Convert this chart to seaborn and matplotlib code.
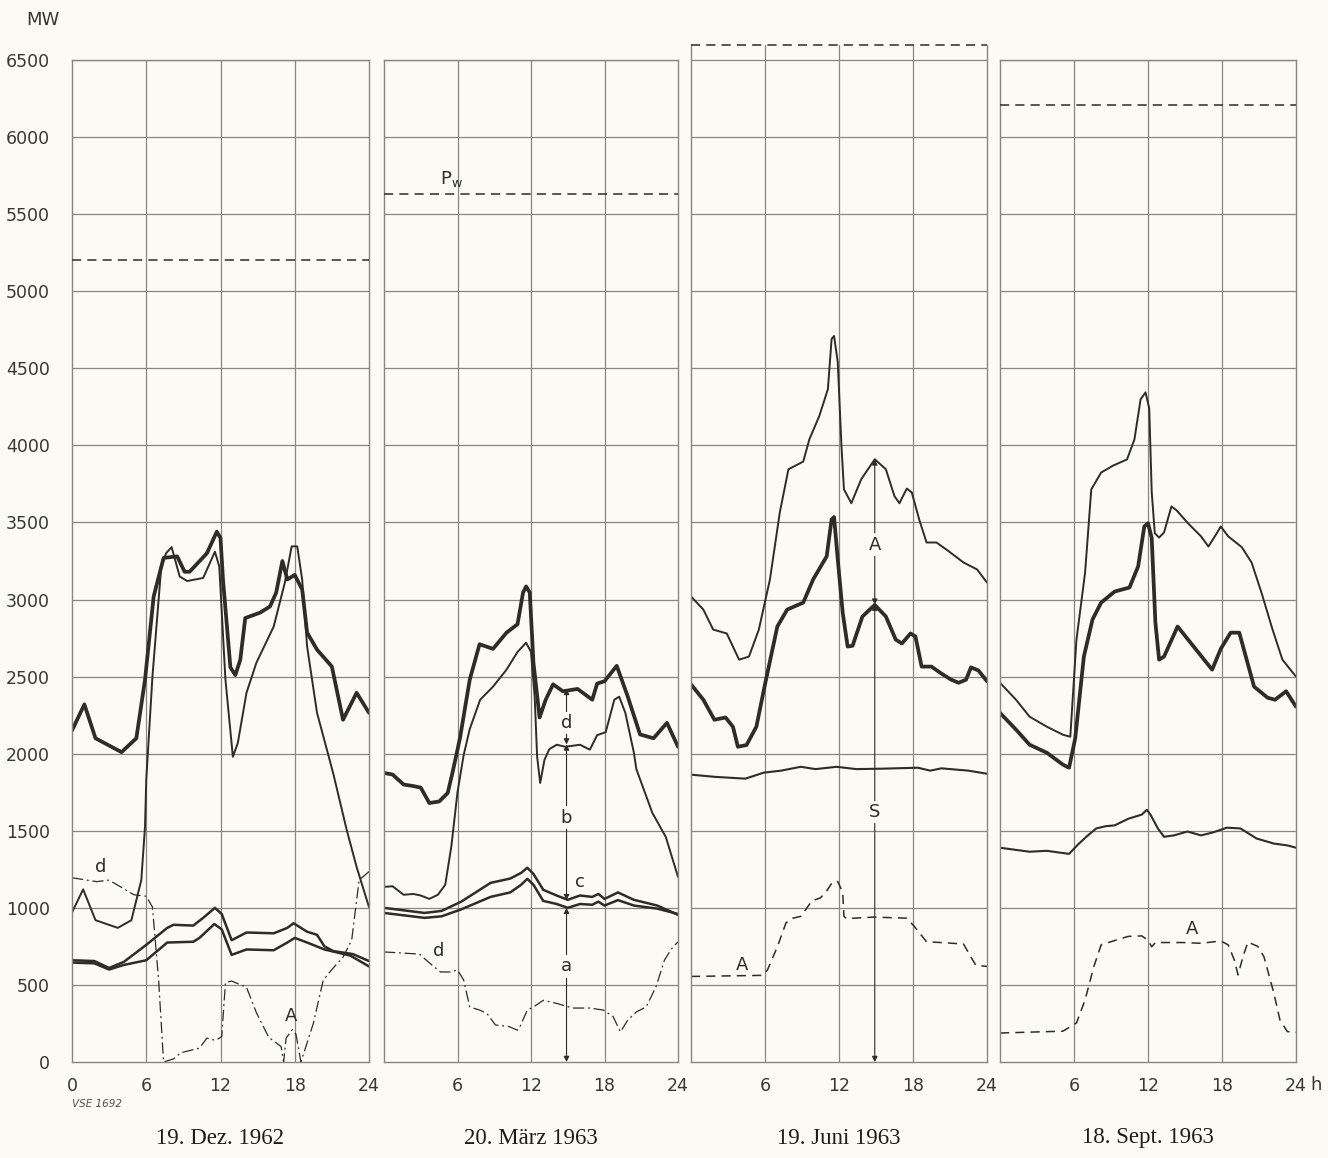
import numpy as np
import matplotlib
matplotlib.use("Agg")
import matplotlib.pyplot as plt
import seaborn as sns

# ---- data (MW over the day) ----
dez_total_h = [0, 1.0, 1.9, 4.0, 5.2, 5.9, 6.6, 7.4, 8.5, 9.1, 9.5, 10.9, 11.7, 12.0, 12.2, 12.8, 13.2,
               13.6, 14.0, 15.2, 16.0, 16.5, 17.0, 17.4, 18.0, 18.6, 19.0, 19.8, 21.0, 21.9, 23.0, 24.0]
dez_total = [2150, 2320, 2100, 2010, 2100, 2480, 3020, 3270, 3280, 3180, 3180, 3300, 3440, 3400, 3130, 2560, 2510,
             2610, 2880, 2915, 2955, 3045, 3250, 3130, 3160, 3065, 2785, 2675, 2565, 2220, 2395, 2265]
dez_thin_h = [0, 0.9, 1.9, 3.7, 4.8, 5.6, 5.9, 6.0, 6.5, 7.2, 7.6, 8.05, 8.7, 9.3, 10.6, 11.55, 11.9, 12.4, 13.0,
              13.4, 14.1, 14.9, 16.3, 17.2, 17.75, 18.2, 18.6, 19.0, 19.8, 21.1, 22.2, 23.0, 24.0]
dez_thin = [970, 1120, 920, 870, 920, 1180, 1526, 1830, 2500, 3200, 3300, 3340, 3150, 3120, 3140, 3310, 3215, 2480, 1980,
            2070, 2395, 2590, 2825, 3110, 3345, 3345, 3130, 2695, 2265, 1875, 1505, 1265, 1005]
dez_upper_h = [0, 1.8, 3.0, 4.2, 6.0, 7.7, 8.2, 9.8, 10.6, 11.55, 12.1, 12.9, 14.1, 16.3, 17.4, 17.9, 19.0, 19.8,
               20.4, 21.1, 22.7, 24.0]
dez_upper = [660, 655, 610, 650, 760, 870, 890, 885, 935, 1000, 960, 790, 840, 835, 870, 900, 845, 825,
             750, 720, 700, 655]
dez_lower_h = [0, 1.8, 3.0, 4.2, 6.0, 7.7, 9.8, 10.3, 11.5, 12.1, 12.9, 14.1, 16.3, 17.4, 18.0, 19.0, 20.4, 22.5, 24.0]
dez_lower = [645, 640, 600, 630, 660, 775, 780, 805, 895, 860, 695, 730, 725, 775, 805, 775, 730, 690, 620]
dez_d_h = [0, 2.0, 3.0, 5.0, 6.0, 6.5, 7.0, 7.4, 8.2, 8.8, 10.3, 10.9, 11.6, 12.1, 12.4, 12.9, 14.1, 14.9, 15.9,
           16.9, 17.1, 17.3, 17.8, 18.1, 18.5, 19.5, 20.3, 21.0, 21.9, 22.6, 23.2, 24.0]
dez_d = [1195, 1170, 1180, 1085, 1075, 1005, 530, 0, 20, 60, 90, 155, 140, 165, 515, 525, 485, 320, 160,
         100, 0, 155, 210, 180, 0, 250, 530, 600, 680, 790, 1180, 1235]

mar_total_h = [0, 0.7, 1.6, 2.4, 3.0, 3.7, 4.5, 5.2, 5.6, 6.2, 7.0, 7.8, 8.9, 10.0, 10.9, 11.35, 11.6, 11.9, 12.2,
               12.7, 13.2, 13.8, 14.6, 15.8, 17.0, 17.4, 18.0, 19.0, 19.9, 20.9, 22.0, 23.1, 24.0]
mar_total = [1875, 1865, 1800, 1790, 1780, 1680, 1690, 1745, 1880, 2100, 2480, 2710, 2680, 2785, 2840, 3045, 3085, 3045,
             2590, 2235, 2350, 2450, 2405, 2420, 2350, 2455, 2470, 2570, 2370, 2125, 2100, 2200, 2045]
mar_thin_h = [0, 0.7, 1.6, 2.4, 3.0, 3.7, 4.4, 5.0, 5.5, 6.0, 6.5, 7.0, 7.85, 8.9, 10.0, 10.9, 11.6, 12.0, 12.3,
              12.5, 12.75, 13.1, 13.5, 14.1, 14.8, 16.0, 16.8, 17.4, 18.1, 18.8, 19.2, 19.7, 20.4, 20.6, 21.9, 23.0, 24.0]
mar_thin = [1136, 1140, 1085, 1090, 1080, 1058, 1085, 1150, 1400, 1750, 1990, 2160, 2350, 2435, 2545, 2660, 2720, 2660,
            2370, 1980, 1810, 1960, 2030, 2058, 2045, 2058, 2026, 2120, 2140, 2350, 2370, 2265, 2006, 1900, 1617, 1461, 1201]
mar_pair_h = [0, 3.3, 4.7, 6.3, 8.7, 10.3, 11.2, 11.7, 12.2, 13.0, 14.1, 15.0, 16.0, 17.0, 17.5, 18.0, 19.1, 20.4,
              22.3, 24.0]
mar_upper = [1000, 967, 980, 1040, 1162, 1190, 1227, 1260, 1220, 1117, 1080, 1052, 1080, 1071, 1090, 1058, 1100, 1052,
             1015, 955]
mar_lower = [967, 935, 945, 990, 1071, 1100, 1150, 1188, 1150, 1045, 1025, 1000, 1025, 1020, 1040, 1015, 1050, 1015,
             995, 960]
mar_d_h = [0, 2.9, 3.6, 4.6, 5.4, 6.0, 6.5, 7.0, 7.8, 8.4, 9.1, 10.2, 10.9, 11.1, 11.7, 12.2, 13.0, 14.1, 15.4,
           16.8, 17.9, 18.7, 19.3, 19.9, 20.6, 21.4, 22.2, 22.9, 23.5, 24.0]
mar_d = [714, 700, 650, 584, 584, 597, 532, 357, 337, 315, 240, 230, 206, 230, 337, 357, 400, 380, 350,
         350, 337, 295, 195, 272, 325, 357, 487, 662, 737, 780]

jun_thin_h = [0, 1.0, 1.8, 2.9, 3.4, 3.9, 4.7, 5.5, 6.4, 7.2, 7.9, 9.1, 9.6, 10.4, 11.1, 11.4, 11.6, 11.9, 12.2,
              12.4, 13.0, 13.8, 14.9, 15.8, 16.5, 16.9, 17.5, 17.9, 18.5, 19.1, 19.9, 20.7, 22.1, 23.2, 24.0]
jun_thin = [3020, 2935, 2805, 2780, 2695, 2610, 2630, 2805, 3130, 3565, 3845, 3895, 4040, 4190, 4365, 4690, 4710, 4540,
            3995, 3715, 3625, 3780, 3910, 3845, 3670, 3625, 3720, 3695, 3520, 3370, 3370, 3325, 3240, 3195, 3110]
jun_total_h = [0, 1.0, 1.9, 2.8, 3.4, 3.8, 4.5, 5.3, 6.0, 7.0, 7.8, 9.1, 9.9, 11.0, 11.4, 11.6, 11.9, 12.3, 12.7,
               13.1, 13.9, 14.9, 15.8, 16.6, 17.1, 17.8, 18.2, 18.7, 19.5, 20.3, 21.1, 21.7, 22.3, 22.7, 23.3, 24.0]
jun_total = [2450, 2350, 2220, 2235, 2175, 2045, 2056, 2175, 2450, 2825, 2935, 2980, 3130, 3280, 3520, 3535, 3260, 2915,
             2695, 2700, 2890, 2965, 2890, 2740, 2715, 2780, 2760, 2565, 2565, 2520, 2480, 2460, 2480, 2560, 2540, 2470]
jun_s_h = [0, 1.9, 4.4, 5.9, 7.3, 8.9, 10.1, 11.8, 13.4, 15.6, 18.4, 19.4, 20.3, 22.5, 24.0]
jun_s = [1864, 1850, 1838, 1877, 1890, 1915, 1900, 1915, 1900, 1903, 1909, 1890, 1905, 1890, 1870]
jun_a_h = [0, 5.8, 6.2, 7.0, 7.7, 8.1, 8.9, 9.4, 9.8, 10.5, 11.0, 11.5, 11.9, 12.3, 12.4, 12.6, 14.8, 17.5, 18.1,
           19.1, 20.7, 22.1, 22.7, 23.1, 24.0]
jun_a = [555, 562, 597, 747, 902, 930, 945, 1000, 1045, 1065, 1110, 1170, 1170, 1100, 945, 930, 940, 933, 880,
         780, 773, 765, 680, 627, 620]

sep_thin_h = [0, 1.3, 2.4, 3.8, 5.1, 5.7, 6.2, 6.9, 7.4, 8.2, 9.2, 10.3, 10.9, 11.4, 11.8, 12.1, 12.3, 12.55,
              12.9, 13.3, 13.9, 14.3, 15.3, 16.3, 16.9, 17.5, 17.9, 18.5, 19.6, 20.4, 21.2, 22.1, 22.9, 24.0]
sep_thin = [2460, 2350, 2240, 2175, 2123, 2110, 2740, 3175, 3714, 3824, 3870, 3909, 4039, 4299, 4344, 4240, 3700, 3430,
            3402, 3435, 3604, 3580, 3490, 3410, 3344, 3420, 3474, 3410, 3340, 3240, 3045, 2805, 2610, 2500]
sep_total_h = [0, 1.3, 2.4, 3.8, 5.1, 5.6, 6.1, 6.8, 7.5, 8.2, 9.3, 10.5, 11.2, 11.7, 12.0, 12.3, 12.6, 12.9,
               13.3, 14.4, 15.7, 17.2, 17.9, 18.7, 19.4, 20.0, 20.6, 21.7, 22.3, 23.2, 24.0]
sep_total = [2265, 2156, 2058, 2006, 1929, 1909, 2100, 2630, 2870, 2980, 3052, 3078, 3215, 3474, 3495, 3400, 2850, 2610,
             2630, 2825, 2695, 2545, 2680, 2785, 2785, 2610, 2435, 2363, 2350, 2405, 2305]
sep_mid_h = [0, 2.4, 3.8, 5.6, 6.3, 7.0, 7.8, 8.6, 9.3, 10.4, 11.5, 11.9, 12.2, 12.8, 13.3, 14.1, 15.2, 16.3, 17.3,
             18.4, 19.5, 20.8, 22.2, 23.3, 24.0]
sep_mid = [1390, 1364, 1370, 1350, 1409, 1461, 1515, 1530, 1535, 1578, 1605, 1636, 1605, 1515, 1461, 1470, 1495, 1470,
           1490, 1520, 1515, 1450, 1417, 1405, 1390]
sep_a_h = [0, 5.1, 6.2, 6.9, 7.6, 8.2, 9.3, 10.4, 11.5, 12.0, 12.3, 12.6, 14.8, 16.3, 17.9, 18.5, 19.0, 19.3, 19.7,
           20.1, 20.9, 21.4, 22.2, 22.7, 23.3, 24.0]
sep_a = [188, 200, 253, 403, 617, 760, 788, 815, 818, 790, 747, 775, 775, 770, 785, 760, 662, 565, 683,
         778, 750, 683, 448, 272, 197, 193]

titles = ["19. Dez. 1962", "20. März 1963", "19. Juni 1963", "18. Sept. 1963"]
pw = [5200, 5630, 6600, 6210]
y_ticks = list(range(0, 6501, 500))
x_ticks = [0, 6, 12, 18, 24]

# ---- style ----
bg = "#fbfaf4"
ink = "#2f2b27"
grid_c = "#8a857e"
txt_c = "#3a3733"
sns.set_style("white")
plt.rcParams["font.family"] = ["DejaVu Sans"]

fig = plt.figure(figsize=(13.28, 11.58), dpi=100, facecolor=bg)
W, H = 1328, 1158
y0_px, y6500_px = 1062, 60
px_per_mw = (y0_px - y6500_px) / 6500
panel_px = [(72, 369), (384, 678), (691, 987), (1000, 1296)]

dash = (0, (6, 4))
dashdot = (0, (9, 3, 1.5, 3))

def line(ax, h, v, lw, ls="-"):
    sns.lineplot(x=h, y=v, ax=ax, color=ink, linewidth=lw, linestyle=ls,
                 estimator=None, sort=False, legend=False)

axes = []
for i, (l, r) in enumerate(panel_px):
    top = 6600 if i == 2 else 6500
    top_px = y0_px - top * px_per_mw
    ax = fig.add_axes([l / W, 1 - y0_px / H, (r - l) / W, (y0_px - top_px) / H])
    ax.set_facecolor(bg)
    ax.set_xlim(0, 24)
    ax.set_ylim(0, top)
    ax.set_yticks(y_ticks)
    ax.set_xticks(x_ticks)
    for g in y_ticks[1:]:
        ax.axhline(g, color=grid_c, lw=0.9, zorder=1)
    for g in [6, 12, 18]:
        ax.axvline(g, color=grid_c, lw=0.9, zorder=1)
    for s in ax.spines.values():
        s.set_color(grid_c)
        s.set_linewidth(1.0)
    if i == 2:
        ax.spines["top"].set_visible(False)
    ax.tick_params(axis="x", length=5, color=grid_c, width=0.9, pad=6,
                   labelsize=12.5, labelcolor=txt_c)
    if i == 0:
        ax.tick_params(axis="y", length=4, color=grid_c, width=0.9, pad=12,
                       labelsize=12.5, labelcolor=txt_c)
        ax.set_xticklabels([str(t) for t in x_ticks])
    else:
        ax.tick_params(axis="y", left=False, labelleft=False)
        ax.set_xticklabels([""] + [str(t) for t in x_ticks[1:]])
    ax.set_xlabel("")
    ax.set_ylabel("")
    ax.plot([0, 24], [pw[i], pw[i]], color=ink, lw=1.1, linestyle=dash, clip_on=False, zorder=3)
    fig.text((l + r) / 2 / W, 1 - 1138 / H, titles[i], ha="center", va="center",
             fontsize=16.5, family="Liberation Serif", color="#1e1b18")
    axes.append(ax)

lbl = dict(ha="center", va="center", fontsize=13, color=ink)

# Panel 1
ax = axes[0]
line(ax, dez_total_h, dez_total, 2.7)
line(ax, dez_thin_h, dez_thin, 1.4)
line(ax, dez_upper_h, dez_upper, 1.8)
line(ax, dez_lower_h, dez_lower, 1.8)
line(ax, dez_d_h, dez_d, 0.9, dashdot)
ax.text(2.3, 1265, "d", **lbl)
ax.text(17.7, 300, "A", **lbl)

# Panel 2
ax = axes[1]
line(ax, mar_total_h, mar_total, 2.7)
line(ax, mar_thin_h, mar_thin, 1.4)
line(ax, mar_pair_h, mar_upper, 1.8)
line(ax, mar_pair_h, mar_lower, 1.8)
line(ax, mar_d_h, mar_d, 0.9, dashdot)
ax.text(4.5, 720, "d", **lbl)
ax.text(5.5, 5730, r"P$_\mathregular{w}$", **lbl)

arrow = dict(arrowstyle="-|>", color=ink, lw=0.8, mutation_scale=8, shrinkA=0, shrinkB=0)
xa = 14.9
for frm, to in [(2190, 2420), (2190, 2060), (1585, 2060), (1585, 1050), (620, 1000), (620, 0)]:
    ax.annotate("", xy=(xa, to), xytext=(xa, frm), arrowprops=arrow, zorder=4)
lab = dict(ha="center", va="center", fontsize=13, color=ink, zorder=5,
           bbox=dict(facecolor=bg, edgecolor="none", pad=1.5))
ax.text(xa, 2200, "d", **lab)
ax.text(xa, 1585, "b", **lab)
ax.text(xa, 620, "a", **lab)
ax.text(16.0, 1170, "c", **lbl)

# Panel 3
ax = axes[2]
line(ax, jun_thin_h, jun_thin, 1.4)
line(ax, jun_total_h, jun_total, 2.7)
line(ax, jun_s_h, jun_s, 1.5)
line(ax, jun_a_h, jun_a, 1.1, dash)
for frm, to in [(3357, 3909), (3357, 2967), (1620, 2967), (1620, 0)]:
    ax.annotate("", xy=(xa, to), xytext=(xa, frm), arrowprops=arrow, zorder=4)
ax.text(xa, 3357, "A", **lab)
ax.text(xa, 1620, "S", **lab)
ax.text(4.1, 630, "A", **lbl)

# Panel 4
ax = axes[3]
line(ax, sep_thin_h, sep_thin, 1.4)
line(ax, sep_total_h, sep_total, 2.7)
line(ax, sep_mid_h, sep_mid, 1.5)
line(ax, sep_a_h, sep_a, 1.1, dash)
ax.text(15.6, 865, "A", **lbl)

fig.text(1316 / W, 1 - 1085 / H, "h", ha="center", va="center", fontsize=13, color=txt_c)
fig.text(26 / W, 1 - 20 / H, "MW", ha="left", va="center", fontsize=13, color=txt_c)
fig.text(72 / W, 1 - 1104 / H, "VSE 1692", ha="left", va="center", fontsize=7.5,
         style="italic", color="#55514c")

fig.savefig("out.png", dpi=100, facecolor=bg)
